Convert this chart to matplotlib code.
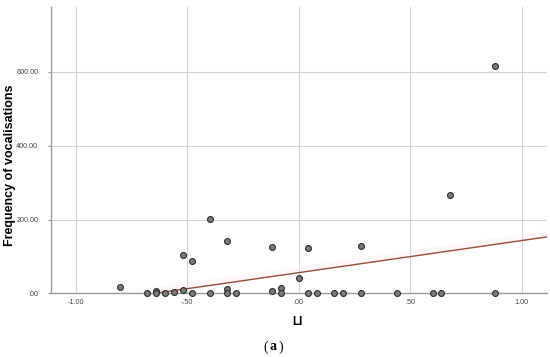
import numpy as np
import matplotlib
matplotlib.use("Agg")
import matplotlib.pyplot as plt

# Data
li = [-0.80, -0.68, -0.64, -0.64, -0.60, -0.56, -0.52, -0.52, -0.48, -0.48,
      -0.40, -0.40, -0.32, -0.32, -0.32, -0.28, -0.12, -0.12, -0.08, -0.08,
      0.00, 0.04, 0.04, 0.08, 0.16, 0.20, 0.28, 0.28, 0.44, 0.60,
      0.64, 0.68, 0.88, 0.88]
freq = [17, 0, 7, 0, 0, 3.5, 8, 104, 88, 0,
        201, 0, 141, 11, 0, 0, 126, 5, 15, 0,
        41, 123, 0, 0, 0, 0, 127, 0, 0, 0,
        0, 266, 0, 617]
fit_intercept = 56.0
fit_slope = 87.0

x_ticks = [-1.0, -0.5, 0.0, 0.5, 1.0]
x_ticklabels = ["-1.00", "-.50", ".00", ".50", "1.00"]
y_ticks = [0, 200, 400, 600]
y_ticklabels = [".00", "200.00", "400.00", "600.00"]

sans = ["Liberation Sans Narrow", "Liberation Sans", "DejaVu Sans"]

fig = plt.figure(figsize=(5.5, 3.57), dpi=100)
ax = fig.add_axes([51/550, 1-293.3/357, (546.7-51)/550, (293.3-6.7)/357])

xlim = (-1.111, 1.112)
ylim = (0, 777)
ax.set_xlim(*xlim)
ax.set_ylim(*ylim)

ax.set_xticks(x_ticks)
ax.set_xticklabels(x_ticklabels, family=sans, fontsize=5.2, color="#444444")
ax.set_yticks(y_ticks)
ax.set_yticklabels(y_ticklabels, family=sans, fontsize=5.2, color="#444444")
ax.tick_params(axis="y", length=2, width=0.8, color="#999999", pad=7)
ax.tick_params(axis="x", length=0, pad=4)

ax.grid(True, color="#d4d4d4", linewidth=0.8)
ax.set_axisbelow(True)
for s in ["top", "right"]:
    ax.spines[s].set_visible(False)
for s in ["left", "bottom"]:
    ax.spines[s].set_color("#9a9a9a")
    ax.spines[s].set_linewidth(1.0)

# fit line
xs = np.linspace(xlim[0], xlim[1], 200)
ys = fit_intercept + fit_slope * xs
ax.fill_between(xs, ys + 2, ys + 18, color="#fdeef4", alpha=0.45, linewidth=0, zorder=1.5)
ax.plot(xs, ys, color="#9a4a3a", linewidth=1.0, zorder=2)

ax.scatter(li, freq, s=18, facecolor="#7a7a7a", edgecolor="#2e2e2e",
           linewidth=0.8, zorder=3, clip_on=False)

fig.text(10/550, 1-165/357, "Frequency of vocalisations", rotation=90,
         ha="center", va="center", family=sans, fontsize=9, fontweight="bold")
fig.text(297/550, 1-322/357, "LI", ha="center", va="center",
         family=sans, fontsize=8.5, fontweight="bold")

serif = ["Liberation Serif", "DejaVu Serif"]
cy = 1 - 347/357
fig.text(268.3/550, cy, "(", ha="right", va="center", family=serif, fontsize=10)
fig.text(273.3/550, cy, "a", ha="center", va="center", family=serif, fontsize=10, fontweight="bold")
fig.text(278.3/550, cy, ")", ha="left", va="center", family=serif, fontsize=10)

fig.savefig("out.png", dpi=100)
